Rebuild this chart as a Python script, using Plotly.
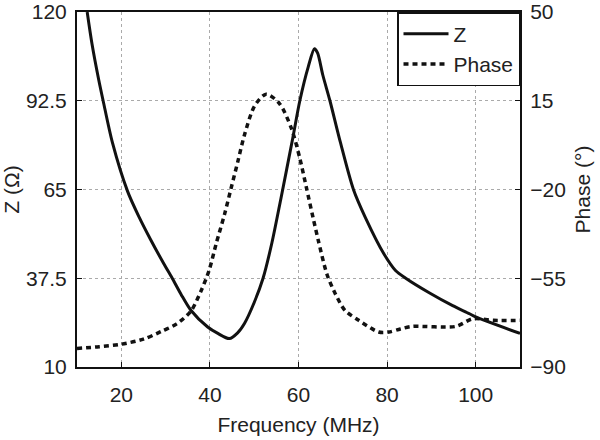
import plotly.graph_objects as go

freq_z = [12.3, 13.4, 14.9, 15.9, 18.0, 21.4, 24.0, 26.6, 29.6, 31.5, 33.5, 35.7, 39.5, 41.8, 44.4, 46.2, 47.8, 50.0, 52.0, 54.0, 56.0, 58.7, 60.3, 62.2, 63.6, 64.3, 65.5, 67.1, 69.4, 72.4, 75.1, 79.3, 81.9, 84.2, 89.5, 94.8, 98.6, 100.0, 110.0]
z_vals = [120, 110, 99, 92.5, 79.5, 64.5, 56.5, 49.5, 42, 37.5, 32.5, 27.6, 22.4, 20.4, 18.8, 20.5, 23.5, 30, 37.5, 48.5, 62, 80.9, 92.5, 103, 108.6, 107.3, 100.4, 92.5, 79.9, 65, 56.3, 45, 39.9, 37.5, 33, 29, 26.5, 25.5, 20.4]

freq_p = [10, 15, 20, 25, 29, 32.5, 35.7, 38, 39.8, 41.4, 43.3, 44.8, 46.3, 47.8, 50.1, 52.7, 55.7, 58.4, 60.3, 61.8, 63.3, 64.5, 66.4, 68.3, 70.5, 73.6, 78.1, 80.4, 83, 85.7, 95.5, 99.3, 104, 110]
phase_vals = [-82.7, -82, -81, -79, -76, -73, -68, -60, -52, -41.5, -29.8, -19.4, -9, 1.5, 13, 17.6, 13.9, 4.1, -7.7, -19.4, -31.2, -40.3, -53.3, -61.1, -67.7, -71.6, -76.2, -76.2, -75, -74, -74, -71, -71.6, -71.6]

x_ticks = [20, 40, 60, 80, 100]
z_ticks = [10, 37.5, 65, 92.5, 120]
p_ticks = [-90, -55, -20, 15, 50]

font = dict(family="Liberation Sans, Arial, sans-serif", size=21, color="#222")

fig = go.Figure()
fig.add_trace(go.Scatter(x=freq_z, y=z_vals, name="Z", mode="lines",
                         line=dict(color="#111", width=3, shape="spline", smoothing=0.8)))
fig.add_trace(go.Scatter(x=freq_p, y=phase_vals, name="Phase", mode="lines", yaxis="y2",
                         line=dict(color="#111", width=3.5, dash="5px,4px", shape="spline", smoothing=0.8)))

axis_common = dict(showline=True, linecolor="#111", linewidth=2, ticks="inside",
                   ticklen=5, tickcolor="#111", tickfont=font, zeroline=False,
                   automargin=False, ticklabeloverflow="allow")

fig.update_layout(
    width=600, height=440,
    margin=dict(l=77, r=80, t=12, b=73),
    paper_bgcolor="white", plot_bgcolor="white",
    font=font,
    xaxis=dict(range=[10, 110], tickvals=x_ticks, mirror=True, ticklabelstandoff=8,
               showgrid=True, gridcolor="#aaa", griddash="dot", gridwidth=1,
               title=dict(text="Frequency (MHz)", font=font, standoff=12), **axis_common),
    yaxis=dict(range=[10, 120], tickvals=z_ticks, ticktext=["10", "37.5", "65", "92.5", "120"],
               showgrid=True, gridcolor="#aaa", griddash="dot", gridwidth=1, ticklabelstandoff=4,
               title=dict(text="Z (Ω)", font=font, standoff=8), **axis_common),
    yaxis2=dict(range=[-90, 50], tickvals=p_ticks, overlaying="y", side="right",
                showgrid=False, ticklabelstandoff=4,
                title=dict(text="Phase (°)", font=font, standoff=10), **axis_common),
    legend=dict(x=1, y=1, xanchor="right", yanchor="top", bgcolor="white",
                bordercolor="#111", borderwidth=1.5, font=font,
                tracegroupgap=0, itemwidth=45),
    showlegend=True,
)

fig.write_html("out.html", config={"displayModeBar": False},
               post_script="document.body.style.margin='0';")
